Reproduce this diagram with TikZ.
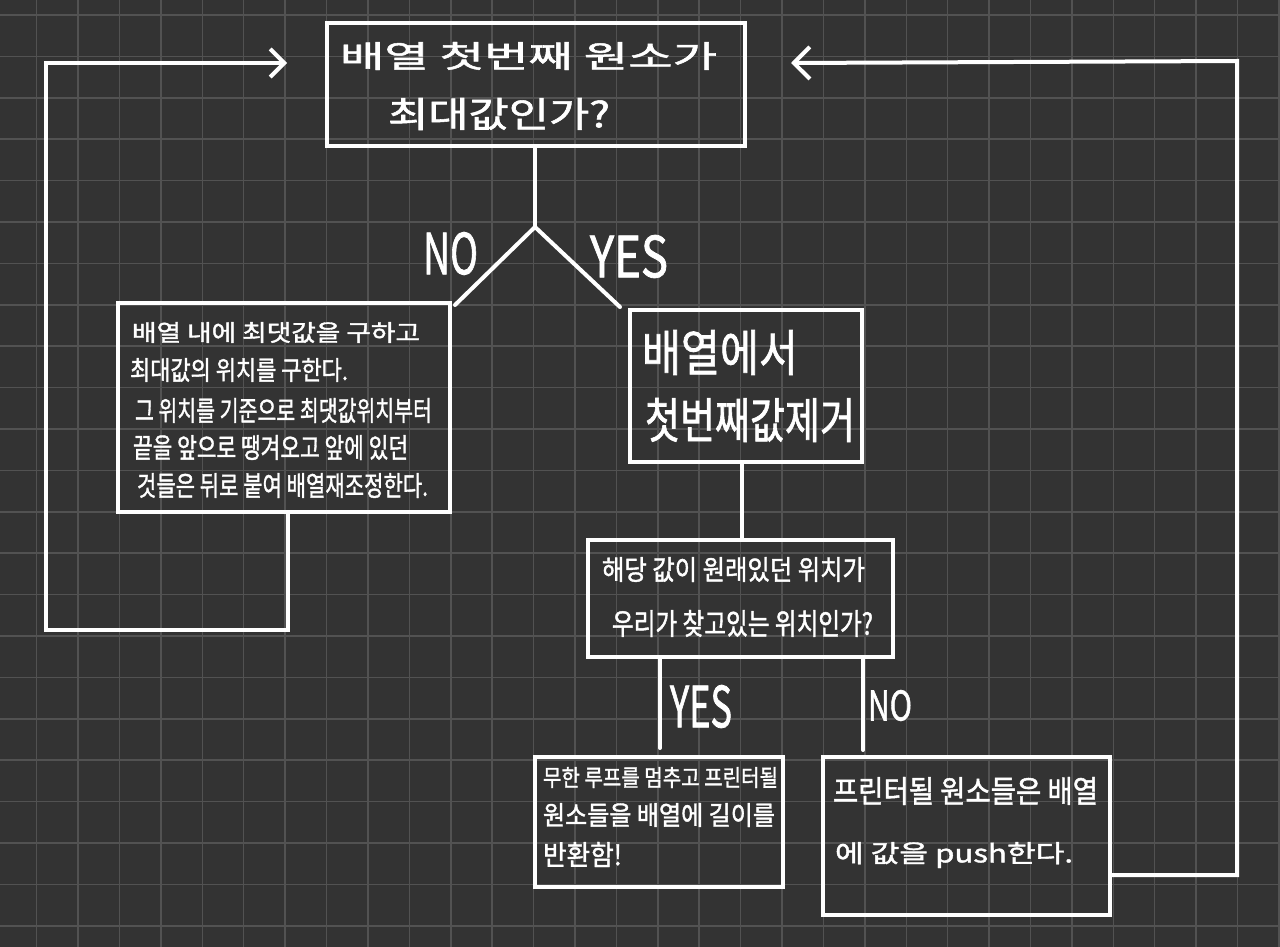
\documentclass[tikz,border=0pt]{standalone}
\usepackage{fontspec}
\usepackage{graphicx}
\newfontfamily\hw[FakeBold=1.5]{Noto Sans CJK KR}
\usetikzlibrary{arrows.meta}
\definecolor{bg}{HTML}{333333}
\definecolor{gridc}{HTML}{525252}
\newcommand{\fitline}[3]{\resizebox*{#1pt}{#2pt}{\hw #3}}
\begin{document}
\begin{tikzpicture}[x=1pt,y=-1pt,
  box/.style={draw=white, line width=4pt, rectangle, inner sep=0pt},
  conn/.style={draw=white, line width=4pt, line cap=round, line join=miter},
  loopback/.style={conn, -{Straight Barb[length=14pt,width=28pt,line width=4pt]}},
  txt/.style={anchor=south west, inner sep=0pt, outer sep=0pt, text=white},
  gridline/.style={draw=gridc, line width=1.5pt}]
% background and grid
\fill[bg] (0,0) rectangle (1280,947);
\useasboundingbox (0,0) rectangle (1280,947);
\foreach \i in {0,...,31} { \draw[gridline] ({-4.75+41.41*\i},0) -- ({-4.75+41.41*\i},947); }
\foreach \j in {0,...,23} { \draw[gridline] (0,{-26.4+41.4*\j}) -- (1280,{-26.4+41.4*\j}); }

% boxes
\node[box, minimum width=418pt, minimum height=123pt] (q1) at (536,84.5) {};
\node[box, minimum width=332pt, minimum height=209pt] (left) at (284,407.5) {};
\node[box, minimum width=232pt, minimum height=152pt] (rem) at (746,386) {};
\node[box, minimum width=305pt, minimum height=117pt] (q2) at (740.5,598.5) {};
\node[box, minimum width=248pt, minimum height=130pt] (ret) at (659,822) {};
\node[box, minimum width=287pt, minimum height=158pt] (push) at (966.5,836) {};

% texts
\node[txt] (q1a) at (340,70) {\fitline{377}{28}{배열 첫번째 원소가}};
\node[txt] (q1b) at (388,130) {\fitline{222}{32}{최대값인가?}};

\node[txt] (la) at (132,343) {\fitline{288}{21}{배열 내에 최댓값을 구하고}};
\node[txt] (lb) at (130,382) {\fitline{218}{24}{최대값의 위치를 구한다.}};
\node[txt] (lc) at (135,423) {\fitline{297}{25}{그 위치를 기준으로 최댓값위치부터}};
\node[txt] (ld) at (133,460) {\fitline{275}{25}{끝을 앞으로 땡겨오고 앞에 있던}};
\node[txt] (le) at (137,498) {\fitline{291}{25}{것들은 뒤로 붙여 배열재조정한다.}};

\node[txt] (ra) at (642,375) {\fitline{156}{45}{배열에서}};
\node[txt] (rb) at (645,442) {\fitline{210}{44}{첫번째값제거}};

\node[txt] (ma) at (602,582) {\fitline{263}{25}{해당 값이 원래있던 위치가}};
\node[txt] (mb) at (612,637) {\fitline{261}{27}{우리가 찾고있는 위치인가?}};

\node[txt] (ba) at (543,788) {\fitline{235}{21}{무한 루프를 멈추고 프린터될}};
\node[txt] (bb) at (543,827) {\fitline{232}{24}{원소들을 배열에 길이를}};
\node[txt] (bc) at (543,867) {\fitline{79}{25}{반환함!}};

\node[txt] (pa) at (833,805) {\fitline{265}{28}{프린터될 원소들은 배열}};
\node[txt] (pb) at (835,868) {\fitline{238}{26}{에 값을 push한다.}};

% labels
\node[txt] (no1) at (423,275) {\fitline{55}{43}{NO}};
\node[txt] (yes1) at (590,278) {\fitline{78}{43}{YES}};
\node[txt] (yes2) at (670,728) {\fitline{62}{43}{YES}};
\node[txt] (no2) at (868,721) {\fitline{44}{31}{NO}};

% connectors
\coordinate (fork) at (535,227);
\coordinate (noend) at (455,305);
\coordinate (yesend) at (620,307);
\draw[conn] (535,146) -- (fork);
\draw[conn] (fork) -- (noend);
\draw[conn] (fork) -- (yesend);

\draw[conn] (rem.south -| 742,0) -- (q2.north -| 742,0);
\draw[conn] (660,658) -- (660,748);
\draw[conn] (863,658) -- (863,750);

\coordinate (lin) at (287,63);
\draw[loopback] (288,512) -- (288,630) -- (46,630) -- (46,63) -- (lin);

\coordinate (rin) at (791,63);
\draw[conn, -{Straight Barb[length=16pt,width=32pt,line width=4pt]}] (1110,875) -- (1237,875) -- (1237,61) -- (rin);
\end{tikzpicture}
\end{document}
